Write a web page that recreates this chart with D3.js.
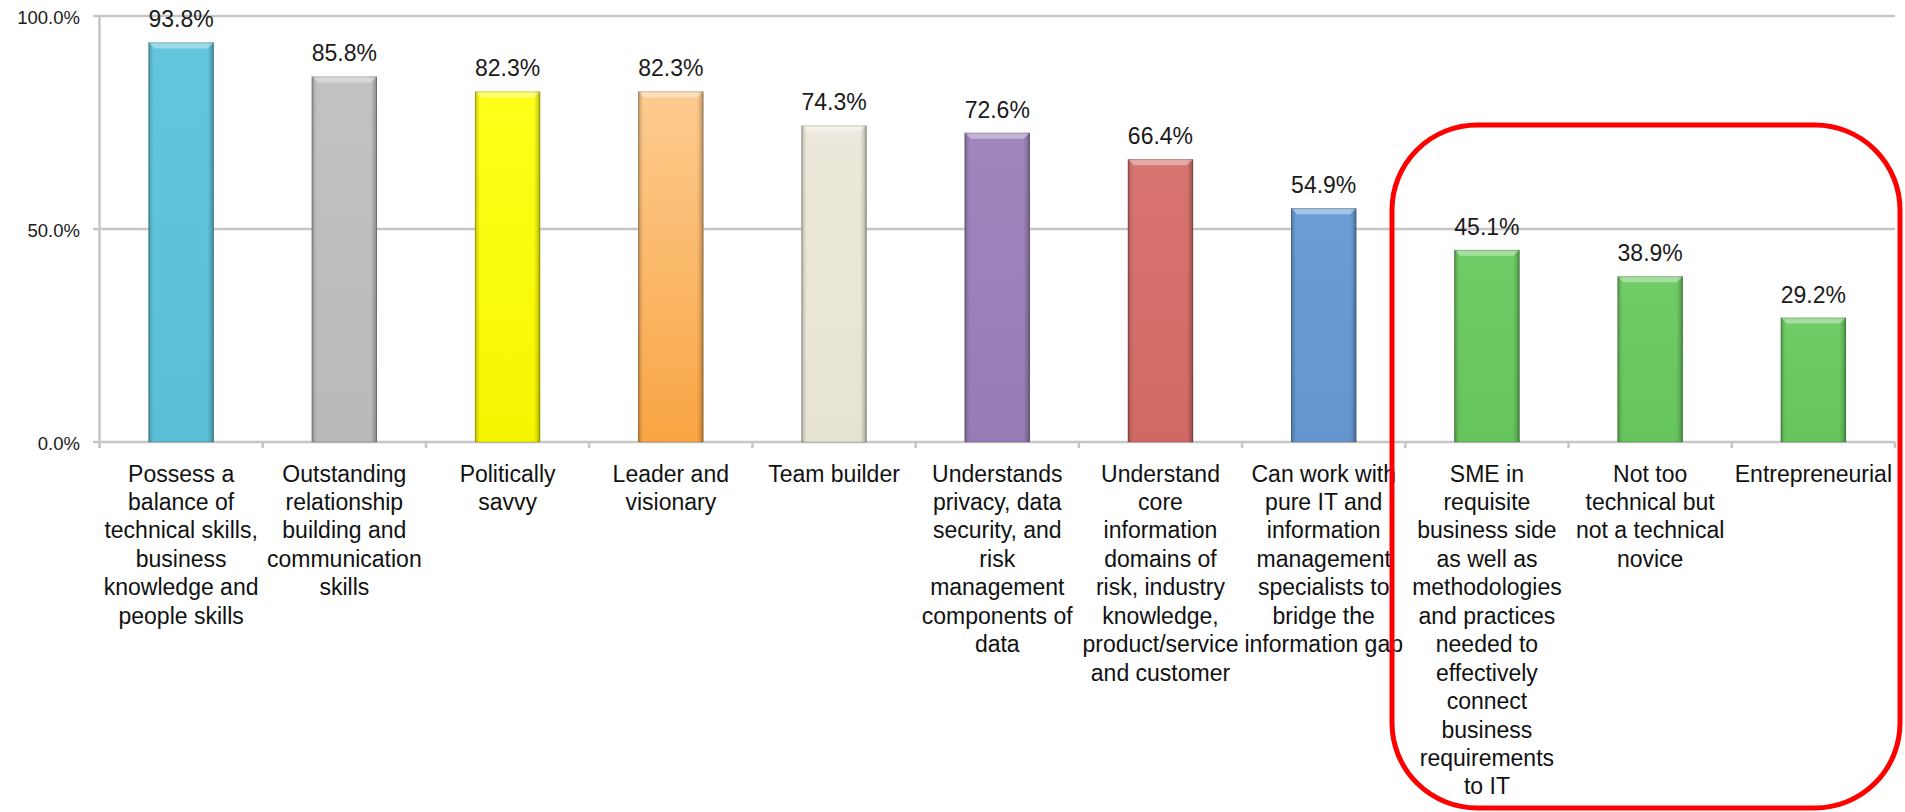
<!DOCTYPE html>
<html>
<head>
<meta charset="utf-8">
<script src="https://cdn.jsdelivr.net/npm/d3@7"></script>
<style>
  html, body { margin: 0; padding: 0; background: #fff; }
  svg { display: block; font-family: "Liberation Sans", Arial, Helvetica, sans-serif; }
</style>
</head>
<body>
<svg id="chart" width="1905" height="812"></svg>
<script>
// Attributes of a successful CDO, share of respondents
const categories = [
  "Possess a\nbalance of\ntechnical skills,\nbusiness\nknowledge and\npeople skills",
  "Outstanding\nrelationship\nbuilding and\ncommunication\nskills",
  "Politically\nsavvy",
  "Leader and\nvisionary",
  "Team builder",
  "Understands\nprivacy, data\nsecurity, and\nrisk\nmanagement\ncomponents of\ndata",
  "Understand\ncore\ninformation\ndomains of\nrisk, industry\nknowledge,\nproduct/service\nand customer",
  "Can work with\npure IT and\ninformation\nmanagement\nspecialists to\nbridge the\ninformation gap",
  "SME in\nrequisite\nbusiness side\nas well as\nmethodologies\nand practices\nneeded to\neffectively\nconnect\nbusiness\nrequirements\nto IT",
  "Not too\ntechnical but\nnot a technical\nnovice",
  "Entrepreneurial"
];
const values = [0.938, 0.858, 0.823, 0.823, 0.743, 0.726, 0.664, 0.549, 0.451, 0.389, 0.292];
const yTicks = [0, 0.5, 1];

// Bar colours: [top, bottom]
const palette = [
  ["#63c6de", "#5bbfd7"],
  ["#c2c2c2", "#b9b9b9"],
  ["#ffff1a", "#f6f600"],
  ["#fdcb90", "#f9a543"],
  ["#ece9dc", "#e6e3d2"],
  ["#9f86bd", "#967cb4"],
  ["#d87470", "#d06964"],
  ["#6c9fd6", "#6595cd"],
  ["#70cc66", "#66c45c"],
  ["#70cc66", "#66c45c"],
  ["#70cc66", "#66c45c"]
];

const svg = d3.select("#chart");
const defs = svg.append("defs");

const x = d3.scaleBand()
  .domain(categories)
  .range([99.5, 1895])
  .paddingInner(0.6)
  .paddingOuter(0.3);

const y = d3.scaleLinear().domain([0, 1]).range([442, 16]);

const gridColor = "#c6c6c6";

// horizontal gridlines
svg.append("g")
  .selectAll("line")
  .data(yTicks)
  .join("line")
  .attr("x1", 93).attr("x2", 1895)
  .attr("y1", d => y(d)).attr("y2", d => y(d))
  .attr("stroke", gridColor)
  .attr("stroke-width", 2.5);

// y axis labels
const yAxis = d3.axisLeft(y)
  .tickValues(yTicks)
  .tickFormat(d3.format(".1%"))
  .tickSize(0)
  .tickPadding(0);
svg.append("g")
  .attr("transform", "translate(80,2)")
  .call(yAxis)
  .call(g => g.select(".domain").remove())
  .selectAll("text")
  .attr("font-size", 18.5)
  .attr("font-family", "'Liberation Sans', Arial, sans-serif")
  .attr("fill", "#1a1a1a");

// vertical axis line
svg.append("line")
  .attr("x1", 99.5).attr("x2", 99.5)
  .attr("y1", y(1)).attr("y2", y(0) + 6)
  .attr("stroke", gridColor).attr("stroke-width", 2.5);

// category boundary ticks under the baseline
const bounds = d3.range(categories.length + 1).map(i => x.range()[0] + i * x.step());
svg.append("g")
  .selectAll("line")
  .data(bounds)
  .join("line")
  .attr("x1", d => d).attr("x2", d => d)
  .attr("y1", y(0)).attr("y2", y(0) + 6)
  .attr("stroke", gridColor).attr("stroke-width", 2.5);

// gradients per bar
palette.forEach((c, i) => {
  const g = defs.append("linearGradient")
    .attr("id", "fill" + i)
    .attr("x1", 0).attr("y1", 0).attr("x2", 0).attr("y2", 1);
  g.append("stop").attr("offset", "0%").attr("stop-color", c[0]);
  g.append("stop").attr("offset", "100%").attr("stop-color", c[1]);
});
const edge = defs.append("linearGradient")
  .attr("id", "edgeShade")
  .attr("x1", 0).attr("y1", 0).attr("x2", 1).attr("y2", 0);
[[0, 0.28], [0.04, 0.10], [0.08, 0], [0.9, 0], [0.95, 0.12], [1, 0.32]].forEach(([o, a]) => {
  edge.append("stop").attr("offset", (o * 100) + "%").attr("stop-color", "#000").attr("stop-opacity", a);
});

const bars = svg.append("g")
  .selectAll("g")
  .data(categories.map((c, i) => ({ c, v: values[i], i })))
  .join("g");

const bw = x.bandwidth();
const bevel = 6;

bars.append("rect")
  .attr("x", d => x(d.c))
  .attr("y", d => y(d.v))
  .attr("width", bw)
  .attr("height", d => y(0) - y(d.v))
  .attr("fill", d => `url(#fill${d.i})`);

bars.append("rect")
  .attr("x", d => x(d.c))
  .attr("y", d => y(d.v))
  .attr("width", bw)
  .attr("height", d => y(0) - y(d.v))
  .attr("fill", "url(#edgeShade)");

// top bevel highlight
bars.append("path")
  .attr("d", d => {
    const x0 = x(d.c), x1 = x0 + bw, t = y(d.v);
    return `M${x0},${t}L${x1},${t}L${x1 - bevel},${t + bevel}L${x0 + bevel},${t + bevel}Z`;
  })
  .attr("fill", "#fff")
  .attr("fill-opacity", 0.38);

bars.append("rect")
  .attr("x", d => x(d.c) + 0.5)
  .attr("y", d => y(d.v) + 0.5)
  .attr("width", bw - 1)
  .attr("height", d => y(0) - y(d.v) - 0.5)
  .attr("fill", "none")
  .attr("stroke", "#000")
  .attr("stroke-opacity", 0.18)
  .attr("stroke-width", 1);

// value labels
bars.append("text")
  .attr("x", d => x(d.c) + bw / 2)
  .attr("y", d => y(d.v) - 15)
  .attr("text-anchor", "middle")
  .attr("font-size", 23)
  .attr("fill", "#1a1a1a")
  .text(d => d3.format(".1%")(d.v));

// category labels, one line per tspan
const xAxis = d3.axisBottom(x).tickSize(0).tickPadding(0);
const xg = svg.append("g")
  .attr("transform", `translate(0,${y(0)})`)
  .call(xAxis)
  .call(g => g.select(".domain").remove());
xg.selectAll(".tick text")
  .attr("font-size", 23)
  .attr("font-family", "'Liberation Sans', Arial, sans-serif")
  .attr("fill", "#111")
  .attr("dy", null)
  .attr("y", 0)
  .each(function (d) {
    const t = d3.select(this);
    t.text(null);
    d.split("\n").forEach((line, k) => {
      t.append("tspan")
        .attr("x", 0)
        .attr("y", 39.5 + k * 28.45)
        .text(line);
    });
  });

// highlight around the last three attributes
svg.append("rect")
  .attr("x", 1392)
  .attr("y", 125)
  .attr("width", 508)
  .attr("height", 683)
  .attr("rx", 85)
  .attr("ry", 85)
  .attr("fill", "none")
  .attr("stroke", "#ff0000")
  .attr("stroke-width", 5);
</script>
</body>
</html>
